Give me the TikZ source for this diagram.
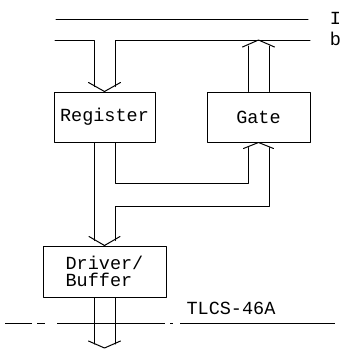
\documentclass[tikz,border=0pt]{standalone}
\usepackage{fontspec}
\setmonofont{Liberation Mono}
\usepackage{tikz}
\usetikzlibrary{calc}

\begin{document}
\begin{tikzpicture}[x=1pt, y=-1pt, line join=round, line cap=round, line width=1pt,
 font=\ttfamily\fontsize{18.5}{17.5}\selectfont,
 box/.style={draw, rectangle, minimum height=50pt, inner sep=0pt}]
 \useasboundingbox (0,0) rectangle (340,349);
 \def\bh{10.5}
 % Blocks
 \node[box, minimum width=101pt] (reg) at (104.5,117) {Register};
 \node[box, minimum width=103pt] (gate) at (258.5,117) {Gate};
 \node[box, minimum width=123pt, minimum height=51pt, align=left] (drv) at (104.5,271.5) {Driver/\\Buffer};
 % Bus lines
 \coordinate (tl) at (56,19);
 \coordinate (tr) at (308,19);
 \coordinate (bl) at (55,40);
 \coordinate (br) at (310,40);
 \coordinate (gtip) at (258.5,40);
 \coordinate (out) at (104.5,348);
 \draw (tl) -- (tr);
 \node (lbI) at (335.5,18) {I};
 \node (lbb) at (335.5,39) {b};
 % Bus -> Register
 \draw (bl) -| ([xshift=-\bh pt,yshift=5pt]reg.north);
 \draw (br) -| ([xshift=\bh pt,yshift=5pt]reg.north);
 \draw ([xshift=-16pt,yshift=9pt]reg.north) -- (reg.north) -- ([xshift=16pt,yshift=9pt]reg.north);
 % Gate -> Bus
 \draw ([xshift=-\bh pt]gate.north) -- ([xshift=-\bh pt,yshift=-6pt]gtip);
 \draw ([xshift=\bh pt]gate.north) -- ([xshift=\bh pt,yshift=-6pt]gtip);
 \draw ([xshift=-16pt,yshift=-7pt]gtip) -- (gtip) -- ([xshift=16pt,yshift=-7pt]gtip);
 % Register -> Gate, Driver
 \draw ([xshift=\bh pt]reg.south) |- ([xshift=-\bh pt,yshift=-41pt]gate.south) -- ([xshift=-\bh pt,yshift=-5pt]gate.south);
 \draw ([xshift=\bh pt,yshift=-5pt]gate.south) |- ([xshift=\bh pt,yshift=-64pt]reg.south) -- ([xshift=\bh pt,yshift=5pt]drv.north);
 \draw ([xshift=-15pt,yshift=-6pt]gate.south) -- (gate.south) -- ([xshift=15pt,yshift=-6pt]gate.south);
 \draw ([xshift=-\bh pt]reg.south) -- ([xshift=-\bh pt,yshift=5pt]drv.north);
 \draw ([xshift=-15.5pt,yshift=9pt]drv.north) -- (drv.north) -- ([xshift=15.5pt,yshift=9pt]drv.north);
 % Driver -> out
 \draw ([xshift=-\bh pt]drv.south) -- ([xshift=-\bh pt,yshift=4pt]out);
 \draw ([xshift=\bh pt]drv.south) -- ([xshift=\bh pt,yshift=4pt]out);
 \draw ([xshift=-16pt,yshift=7pt]out) -- (out) -- ([xshift=16pt,yshift=7pt]out);
 % Chip boundary
 \draw[line cap=butt, dash pattern=on 27pt off 5pt on 8pt off 12pt on 108pt off 5pt on 3pt off 7pt on 160pt] (5,323) -- (335,323);
 \node (chip) at (231,308) {TLCS-46A};
\end{tikzpicture}
\end{document}
